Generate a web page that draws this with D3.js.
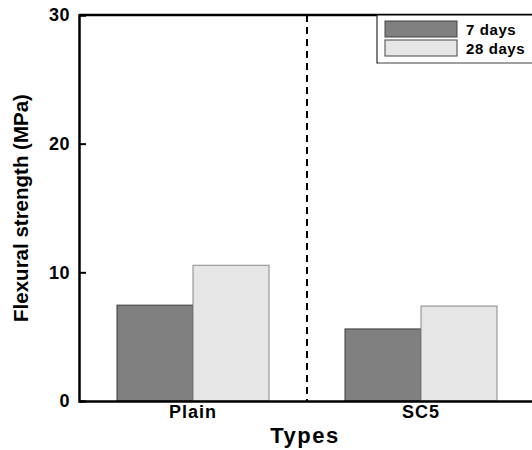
<!DOCTYPE html>
<html lang="en">
<head>
  <meta charset="UTF-8" />
  <title>Flexural strength</title>
  <script src="https://d3js.org/d3.v7.min.js"></script>
  <style>
    body { margin: 0; background: #fff; }
    svg text { font-family: "Liberation Sans", Arial, sans-serif; font-weight: bold; fill: #000; }
  </style>
</head>
<body>
  <svg width="532" height="450"></svg>
  <script>
    const types = ["Plain", "SC5"];
    const series = ["7 days", "28 days"];
    const days7 = [7.45, 5.6];
    const days28 = [10.55, 7.38];
    const yTicks = [0, 10, 20, 30];
    const colors = ["#808080", "#e6e6e6"];
    const strokes = ["#3a3a3a", "#888"];

    const svg = d3.select("svg"),
          margin = { top: 15, right: -3, bottom: 49, left: 79 },
          width = +svg.attr("width") - margin.left - margin.right,
          height = +svg.attr("height") - margin.top - margin.bottom,
          g = svg.append("g").attr("transform", `translate(${margin.left},${margin.top})`);

    const x = d3.scaleBand().domain(types).range([0, width]).paddingInner(1 / 3).paddingOuter(1 / 6);
    const xs = d3.scaleBand().domain(series).range([0, x.bandwidth()]);
    const y = d3.scaleLinear().domain([0, 30]).range([height, 0]);

    const data = [];
    types.forEach((t, i) => {
      data.push({ type: t, s: series[0], v: days7[i], k: 0 });
      data.push({ type: t, s: series[1], v: days28[i], k: 1 });
    });

    g.selectAll("rect.bar")
      .data(data)
      .join("rect")
      .attr("class", "bar")
      .attr("x", d => x(d.type) + xs(d.s))
      .attr("y", d => y(d.v))
      .attr("width", xs.bandwidth())
      .attr("height", d => height - y(d.v))
      .attr("fill", d => colors[d.k])
      .attr("stroke", d => strokes[d.k])
      .attr("stroke-width", 1);

    // divider between groups
    const mid = x(types[1]) - x.step() * x.paddingInner() / 2;
    g.append("line")
      .attr("x1", mid).attr("x2", mid)
      .attr("y1", 0).attr("y2", height)
      .attr("stroke", "#000").attr("stroke-width", 2)
      .attr("stroke-dasharray", "7,5");

    // y axis
    const yAxis = g.append("g")
      .call(d3.axisLeft(y).tickValues(yTicks).tickSize(-7).tickPadding(9));
    yAxis.select(".domain").attr("stroke-width", 2.5);
    yAxis.selectAll(".tick line").attr("stroke-width", 2);
    yAxis.selectAll(".tick text").style("font-size", "18px").style("letter-spacing", "0.5px");
    yAxis.selectAll(".tick").filter(d => d === 0 || d === 30).select("line").remove();

    // x axis
    const xAxis = g.append("g")
      .attr("transform", `translate(0,${height})`)
      .call(d3.axisBottom(x).tickSize(0).tickPadding(4));
    xAxis.select(".domain").attr("stroke-width", 2.5);
    xAxis.selectAll(".tick text").style("font-size", "18px").style("letter-spacing", "1px");

    // top border
    g.append("line")
      .attr("x1", 0).attr("x2", width)
      .attr("y1", 0).attr("y2", 0)
      .attr("stroke", "#000").attr("stroke-width", 2.5);

    // axis titles
    svg.append("text")
      .attr("x", 305).attr("y", 443)
      .attr("text-anchor", "middle")
      .style("font-size", "22px")
      .style("letter-spacing", "1.5px")
      .text("Types");

    svg.append("text")
      .attr("transform", "translate(28,208) rotate(-90)")
      .attr("text-anchor", "middle")
      .style("font-size", "20.5px")
      .text("Flexural strength (MPa)");

    // legend
    const legend = svg.append("g").attr("transform", "translate(377,15)");
    legend.append("rect")
      .attr("width", 170).attr("height", 48)
      .attr("fill", "#fff").attr("stroke", "#000").attr("stroke-width", 1);
    legend.append("line")
      .attr("x1", 1).attr("x2", 170).attr("y1", 48).attr("y2", 48)
      .attr("stroke", "#aaa").attr("stroke-width", 1.5);
    const items = legend.selectAll("g.item")
      .data(series)
      .join("g")
      .attr("class", "item")
      .attr("transform", (d, i) => `translate(8,${6 + i * 19})`);
    items.append("rect")
      .attr("width", 72).attr("height", 16)
      .attr("fill", (d, i) => colors[i])
      .attr("stroke", "#444");
    items.append("text")
      .attr("x", 81).attr("y", 13.5)
      .style("font-size", "15px")
      .style("letter-spacing", "0.6px")
      .text(d => d);
  </script>
</body>
</html>
